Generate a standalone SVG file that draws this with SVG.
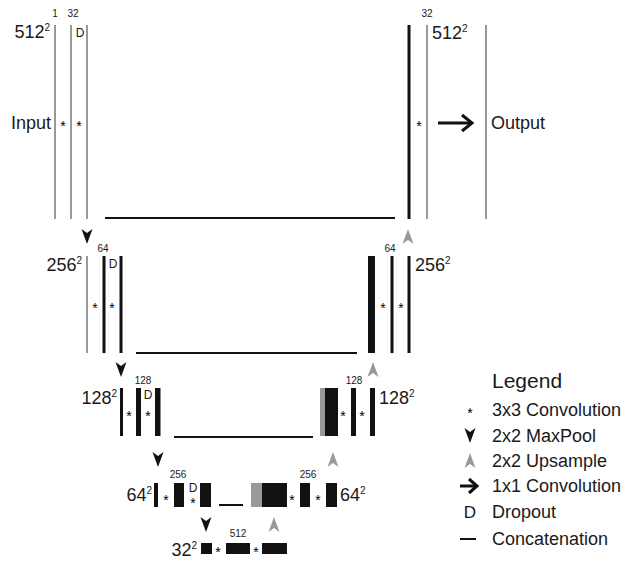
<svg xmlns="http://www.w3.org/2000/svg" xmlns:xlink="http://www.w3.org/1999/xlink" width="630" height="561" viewBox="0 0 630 561">
<style>
text{font-family:"Liberation Sans",Arial,sans-serif;fill:#1a1a1a}
.sz{font-size:18px}
.ch{font-size:10px;text-anchor:middle}
.d{font-size:12px;text-anchor:middle}
.st{font-size:14px;text-anchor:middle;fill:#000}
.g{fill:#999}
.k{fill:#111}
.cat{stroke:#111;stroke-width:2;fill:none}
.lg{font-size:18px}
</style>
<defs>
<path id="dn" d="M-5.5,0 L0,4 L5.5,0 L0,15 Z" fill="#111"/>
<path id="up" d="M-5.5,15 L0,11 L5.5,15 L0,0 Z" fill="#999"/>
</defs>
<rect width="630" height="561" fill="#fff"/>

<!-- Level 1 encoder -->
<g id="enc512">
<rect class="g" x="54" y="25" width="2" height="194"/>
<rect class="g" x="70" y="25" width="2" height="194"/>
<rect class="g" x="86" y="25" width="2" height="194"/>
<text class="ch" x="55" y="17">1</text>
<text class="ch" x="73" y="17">32</text>
<text class="d" x="80" y="37">D</text>
<text class="sz" x="50" y="38" text-anchor="end">512<tspan dy="-7" font-size="10">2</tspan></text>
<text class="sz" x="51" y="129" text-anchor="end">Input</text>
<text class="st" x="63" y="131">*</text>
<text class="st" x="79" y="131">*</text>
</g>

<!-- Level 1 decoder -->
<g id="dec512">
<rect class="k" x="407.5" y="25" width="3" height="194"/>
<rect class="g" x="426" y="25" width="2" height="194"/>
<text class="ch" x="427" y="17">32</text>
<text class="sz" x="432" y="39">512<tspan dy="-7" font-size="10">2</tspan></text>
<text class="st" x="419" y="131">*</text>
</g>
<g id="output">
<rect class="g" x="485" y="25" width="2" height="194"/>
<text class="sz" x="491" y="129">Output</text>
</g>

<!-- Level 2 encoder -->
<g id="enc256">
<rect class="g" x="86" y="256" width="2" height="97"/>
<rect class="k" x="102.5" y="256" width="3" height="97"/>
<rect class="k" x="119.5" y="256" width="3" height="97"/>
<text class="ch" x="103" y="252">64</text>
<text class="d" x="113" y="268">D</text>
<text class="sz" x="82" y="271" text-anchor="end">256<tspan dy="-7" font-size="10">2</tspan></text>
<text class="st" x="95" y="313">*</text>
<text class="st" x="112" y="313">*</text>
</g>

<!-- Level 2 decoder -->
<g id="dec256">
<rect class="k" x="368" y="256" width="7" height="97"/>
<rect class="k" x="390.5" y="256" width="3" height="97"/>
<rect class="k" x="407.5" y="256" width="3" height="97"/>
<text class="ch" x="390" y="252">64</text>
<text class="sz" x="415" y="271">256<tspan dy="-7" font-size="10">2</tspan></text>
<text class="st" x="383" y="313">*</text>
<text class="st" x="401" y="313">*</text>
</g>

<!-- Level 3 encoder -->
<g id="enc128">
<rect class="k" x="120" y="388" width="3" height="48"/>
<rect class="k" x="136" y="388" width="5" height="48"/>
<rect class="k" x="155" y="388" width="5.5" height="48"/>
<text class="ch" x="143" y="384">128</text>
<text class="d" x="148" y="399">D</text>
<text class="sz" x="117" y="404" text-anchor="end">128<tspan dy="-7" font-size="10">2</tspan></text>
<text class="st" x="129" y="421">*</text>
<text class="st" x="148" y="421">*</text>
</g>

<!-- Level 3 decoder -->
<g id="dec128">
<rect class="g" x="320" y="388" width="5.5" height="48"/>
<rect class="k" x="325" y="388" width="13" height="48"/>
<rect class="k" x="351" y="388" width="5" height="48"/>
<rect class="k" x="370" y="388" width="5" height="48"/>
<text class="ch" x="354" y="384">128</text>
<text class="sz" x="379" y="404">128<tspan dy="-7" font-size="10">2</tspan></text>
<text class="st" x="343" y="421">*</text>
<text class="st" x="362" y="421">*</text>
</g>

<!-- Level 4 encoder -->
<g id="enc64">
<rect class="k" x="154" y="483" width="4" height="24"/>
<rect class="k" x="174" y="483" width="10" height="24"/>
<rect class="k" x="200" y="483" width="11" height="24"/>
<text class="ch" x="178" y="478">256</text>
<text class="d" x="193" y="492" font-size="9">D</text>
<text class="sz" x="152" y="501" text-anchor="end">64<tspan dy="-7" font-size="10">2</tspan></text>
<text class="st" x="166" y="505">*</text>
<text class="st" x="193" y="508">*</text>
</g>

<!-- Level 4 decoder -->
<g id="dec64">
<rect class="g" x="251" y="483" width="11.5" height="24"/>
<rect class="k" x="262" y="483" width="25" height="24"/>
<rect class="k" x="300" y="483" width="10" height="24"/>
<rect class="k" x="326" y="483" width="11" height="24"/>
<text class="ch" x="308" y="478">256</text>
<text class="sz" x="340" y="501">64<tspan dy="-7" font-size="10">2</tspan></text>
<text class="st" x="292" y="505">*</text>
<text class="st" x="318" y="505">*</text>
</g>

<!-- Level 5 bottleneck -->
<g id="bottleneck32">
<rect class="k" x="201" y="543" width="11" height="11"/>
<rect class="k" x="226" y="543" width="24" height="11"/>
<rect class="k" x="262" y="543" width="25" height="11"/>
<text class="ch" x="238" y="537" font-size="12.5px">512</text>
<text class="sz" x="197" y="556" text-anchor="end">32<tspan dy="-7" font-size="10">2</tspan></text>
<text class="st" x="218" y="557">*</text>
<text class="st" x="256" y="557">*</text>
</g>

<!-- Connectors -->
<g id="connectors">
<line class="cat" x1="105" y1="218" x2="395" y2="218"/>
<line class="cat" x1="136" y1="353" x2="357" y2="353"/>
<line class="cat" x1="174" y1="437" x2="313" y2="437"/>
<line class="cat" x1="219" y1="505" x2="243" y2="505"/>
<use xlink:href="#dn" x="87" y="229"/>
<use xlink:href="#dn" x="121" y="362"/>
<use xlink:href="#dn" x="158" y="452"/>
<use xlink:href="#dn" x="206" y="517"/>
<use xlink:href="#up" x="408" y="229"/>
<use xlink:href="#up" x="373" y="362"/>
<use xlink:href="#up" x="333" y="452"/>
<use xlink:href="#up" x="274" y="517"/>
<path d="M438,123 H471" stroke="#111" stroke-width="3" fill="none"/>
<path d="M462,115 L472,123 L462,131" stroke="#111" stroke-width="3" fill="none"/>
</g>

<!-- Legend -->
<g id="legend">
<text x="492" y="388" font-size="21px">Legend</text>
<text class="st" x="470" y="418">*</text>
<text class="lg" x="492" y="416">3x3 Convolution</text>
<use xlink:href="#dn" x="470" y="428"/>
<text class="lg" x="492" y="442">2x2 MaxPool</text>
<use xlink:href="#up" x="470" y="453"/>
<text class="lg" x="492" y="467">2x2 Upsample</text>
<path d="M460,486 H476" stroke="#111" stroke-width="3" fill="none"/>
<path d="M469,479 L477,486 L469,493" stroke="#111" stroke-width="3" fill="none"/>
<text class="lg" x="492" y="492">1x1 Convolution</text>
<text x="470" y="518" font-size="17px" text-anchor="middle">D</text>
<text class="lg" x="492" y="518">Dropout</text>
<line x1="460" y1="539" x2="476" y2="539" stroke="#111" stroke-width="2"/>
<text class="lg" x="492" y="545">Concatenation</text>
</g>
</svg>
